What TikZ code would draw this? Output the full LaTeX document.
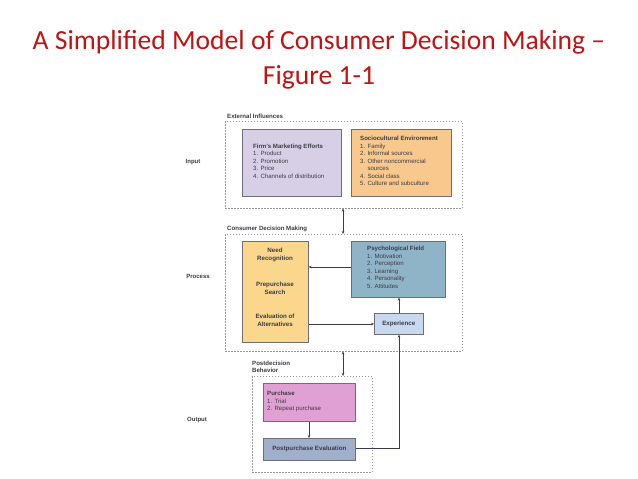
\documentclass[tikz,border=0pt]{standalone}
\usepackage{fontspec}
\setmainfont{Liberation Sans}
\newfontfamily\titlefont[Ligatures=TeX]{Carlito}
\usetikzlibrary{arrows.meta}
\definecolor{titlered}{RGB}{192,20,20}
\definecolor{lav}{RGB}{214,207,230}
\definecolor{orng}{RGB}{248,200,140}
\definecolor{yel}{RGB}{250,215,140}
\definecolor{psy}{RGB}{143,180,200}
\definecolor{expc}{RGB}{200,216,238}
\definecolor{pink}{RGB}{225,160,212}
\definecolor{gblue}{RGB}{160,176,204}
\definecolor{edgegray}{RGB}{110,110,120}
\definecolor{txt}{RGB}{60,60,70}
\tikzset{
  x=1pt,y=-1pt,
  box/.style={draw=edgegray,line width=0.6pt,inner sep=0pt},
  grp/.style={draw=gray!80,dashed,dash pattern=on 1.5pt off 1.5pt,line width=0.5pt},
  txtb/.style={font=\fontsize{6.1}{7.5}\selectfont,text=txt,align=left,anchor=north west,inner sep=0pt},
  txtc/.style={font=\fontsize{6.2}{7.8}\selectfont\bfseries,text=txt,align=center,inner sep=0pt},
  lab/.style={font=\fontsize{6.1}{7.6}\selectfont\bfseries,text=txt,align=left,inner sep=0pt},
  side/.style={font=\fontsize{6}{7}\selectfont\bfseries,text=txt,inner sep=0pt},
  conn/.style={draw=txt,line width=0.6pt,-{Stealth[length=3pt,width=2.5pt]}},
  dconn/.style={draw=txt,line width=0.6pt,{Stealth[length=3pt,width=2.5pt]}-{Stealth[length=3pt,width=2.5pt]}},
  plain/.style={draw=txt,line width=0.6pt}
}
\begin{document}
\begin{tikzpicture}
\useasboundingbox[fill=white] (0,0) rectangle (638,479);
% title
\node[font=\titlefont\fontsize{27.6}{35}\selectfont,text=titlered,align=center] (title) at (319,60) {A Simplified Model of Consumer Decision Making –\\Figure 1-1};
% groups
\node[grp,minimum width=237,minimum height=87,anchor=north west,inner sep=0pt] (ext) at (225,121) {};
\node[lab,anchor=south west] (extl) at (227,119) {External Influences};
\node[grp,minimum width=237,minimum height=117,anchor=north west,inner sep=0pt] (cdm) at (225,234) {};
\node[lab,anchor=south west] (cdml) at (227,232) {Consumer Decision Making};
\node[grp,minimum width=120,minimum height=96,anchor=north west,inner sep=0pt] (post) at (252,376) {};
\node[lab,anchor=south west] (postl) at (252,373) {Postdecision\\Behavior};
% side labels
\node[side] (input) at (193,162) {Input};
\node[side] (process) at (198,276) {Process};
\node[side] (output) at (197,420) {Output};
% boxes
\node[box,fill=lav,minimum width=99,minimum height=67,anchor=north west] (firm) at (242,129) {};
\node[txtb] (firmt) at (253,143.5) {\textbf{Firm's Marketing Efforts}\\1. Product\\2. Promotion\\3. Price\\4. Channels of distribution};
\node[box,fill=orng,minimum width=100,minimum height=67,anchor=north west] (socio) at (351,129) {};
\node[txtb] (sociot) at (360,136) {\textbf{Sociocultural Environment}\\1. Family\\2. Informal sources\\3. Other noncommercial\\\hphantom{3. }sources\\4. Social class\\5. Culture and subculture};
\node[box,fill=yel,minimum width=66,minimum height=101,anchor=north west] (dec) at (242,241) {};
\node[txtc] (need) at (275,255) {Need\\Recognition};
\node[txtc] (search) at (275,288) {Prepurchase\\Search};
\node[txtc] (evalalt) at (275,320) {Evaluation of\\Alternatives};
\node[box,fill=psy,minimum width=94,minimum height=56,anchor=north west] (psych) at (351,241) {};
\node[txtb] (psycht) at (367,246) {\textbf{Psychological Field}\\1. Motivation\\2. Perception\\3. Learning\\4. Personality\\5. Attitudes};
\node[box,fill=expc,minimum width=49,minimum height=21,anchor=north west] (exp) at (374,313) {};
\node[txtc] (expt) at (exp.center) {Experience};
\node[box,fill=pink,minimum width=92,minimum height=38,anchor=north west] (purch) at (263,383) {};
\node[txtb] (purcht) at (267,391) {\textbf{Purchase}\\1. Trial\\2. Repeat purchase};
\node[box,fill=gblue,minimum width=92,minimum height=22,anchor=north west] (ppe) at (263,438) {};
\node[txtc] (ppet) at (ppe.center) {Postpurchase Evaluation};
% connectors
\draw[dconn] (ext.south -| 343,0) -- (cdm.north -| 343,0);
\draw[dconn] (cdm.south -| 343,0) -- (post.north -| 343,0);
\draw[conn] (psych.west |- 0,267) -- (dec.east |- 0,267);
\draw[conn] (dec.east |- 0,324) -- (exp.west |- 0,324);
\draw[conn] (exp.north -| 399,0) -- (psych.south -| 399,0);
\draw[conn] (ppe.east |- 0,448) -| (exp.south -| 399,0);
\draw[conn] (purch.south -| 309,0) -- (ppe.north -| 309,0);
\end{tikzpicture}
\end{document}
